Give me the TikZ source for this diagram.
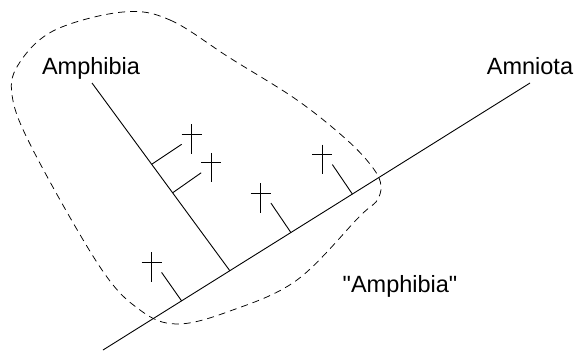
\documentclass[tikz,border=0pt]{standalone}
\usepackage{fontspec}
\setmainfont{Liberation Sans}
\usetikzlibrary{calc}
\newcommand\qdbl{\XeTeXglyph\XeTeXglyphindex "quotedbl"\relax}
\begin{document}
\begin{tikzpicture}[x=1pt,y=-1pt,
  branch/.style={line width=0.9pt},
  hull/.style={dash pattern=on 7pt off 5pt, line width=0.75pt},
  taxon/.style={font=\fontsize{23.5}{28}\selectfont, inner sep=0pt, anchor=base},
  extinct/.pic={\draw[line width=0.9pt] (0,-10) -- (0,19.5); \draw[line width=0.9pt] (-10,0) -- (10,0);}]
\useasboundingbox (0,0) rectangle (576,354);
% main lines
\coordinate (root) at (103,350);
\coordinate (amn) at (530,83);
\coordinate (amtop) at (92,83);
\coordinate (jA) at ($(root)!0.297!(amn)$);
\coordinate (mA) at ($(root)!0.184!(amn)$);
\coordinate (mB) at ($(root)!0.440!(amn)$);
\coordinate (mC) at ($(root)!0.584!(amn)$);
\coordinate (a1) at ($(amtop)!0.433!(jA)$);
\coordinate (a2) at ($(amtop)!0.585!(jA)$);
\coordinate (eA) at ($(mA)+(-20,-28.5)$);
\coordinate (eB) at ($(mB)+(-20,-29.5)$);
\coordinate (eC) at ($(mC)+(-20,-29.5)$);
\coordinate (e1) at ($(a1)+(30,-20)$);
\coordinate (e2) at ($(a2)+(28.5,-20)$);
\draw[branch] (root) -- (amn);
\draw[branch] (amtop) -- (jA);
\draw[branch] (mA) -- (eA);
\draw[branch] (mB) -- (eB);
\draw[branch] (mC) -- (eC);
\draw[branch] (a1) -- (e1);
\draw[branch] (a2) -- (e2);
\pic at ($(eA)+(-10,-10)$) {extinct};
\pic at ($(eB)+(-10,-10)$) {extinct};
\pic at ($(eC)+(-10,-10)$) {extinct};
\pic at ($(e1)+(10,-10)$) {extinct};
\pic at ($(e2)+(10,-10)$) {extinct};
% labels
\node[taxon] (amphibia) at (91,74) {Amphibia};
\node[taxon] (amniota) at (530,74) {Amniota};
\node[taxon] (para) at (400,292.5) {\qdbl Amphibia\qdbl};
% paraphyletic hull
\draw[hull] plot[smooth cycle, tension=0.6] coordinates {
  (123,12) (170,20) (230,58) (297,100) (347,140) (373,168) (381,186)
  (376,202) (360,216) (297,280) (230,311) (177,324) (140,310) (100,267)
  (33,150) (12,95) (20,62) (55,30)};
\end{tikzpicture}
\end{document}
